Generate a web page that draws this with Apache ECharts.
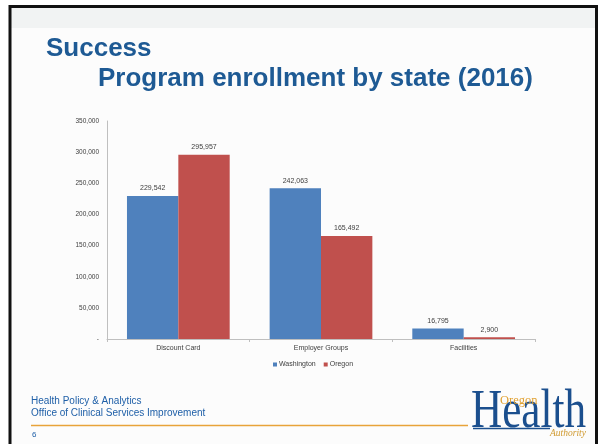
<!DOCTYPE html>
<html><head><meta charset="utf-8">
<script src="https://cdn.jsdelivr.net/npm/echarts@6/dist/echarts.min.js"></script>
<style>html,body{margin:0;padding:0;background:#fff}#c{width:600px;height:444px}</style>
</head><body><div id="c"></div>
<script>
const categories = ["Discount Card", "Employer Groups", "Facilities"];
const seriesNames = ["Washington", "Oregon"];
const washington = [229542, 242063, 16795];
const oregon = [295957, 165492, 2900];
const yTicks = { min: 0, max: 350000, interval: 50000 };

const chart = echarts.init(document.getElementById('c'));
const fmt = v => v === 0 ? '-' : v.toLocaleString('en-US');
const labelStyle = { show: true, position: 'top', fontSize: 7, color: '#404040', fontFamily: 'Liberation Sans', formatter: p => p.value.toLocaleString('en-US'), distance: 4 };

chart.setOption({
  animation: false,
  backgroundColor: '#ffffff',
  grid: { left: 107, right: 65, top: 121, bottom: 105 },
  legend: {
    left: 268, top: 356, itemWidth: 4, itemHeight: 4, itemGap: 8,
    icon: 'rect',
    textStyle: { fontSize: 7, color: '#404040', fontFamily: 'Liberation Sans', padding: [0, 0, 0, -3] },
    data: seriesNames
  },
  xAxis: {
    type: 'category', data: categories,
    axisLine: { lineStyle: { color: '#bfbfbf' } },
    axisTick: { show: true, length: 3, lineStyle: { color: '#bfbfbf' } },
    axisLabel: { fontSize: 7, color: '#404040', fontFamily: 'Liberation Sans', margin: 6 }
  },
  yAxis: {
    type: 'value', min: yTicks.min, max: yTicks.max, interval: yTicks.interval,
    axisLine: { show: true, lineStyle: { color: '#bfbfbf' } },
    axisTick: { show: false },
    splitLine: { show: false },
    axisLabel: { fontSize: 6.5, color: '#404040', fontFamily: 'Liberation Sans', margin: 8, formatter: fmt }
  },
  series: [
    { name: seriesNames[0], type: 'bar', data: washington, barGap: '0%', barCategoryGap: '28%',
      itemStyle: { color: '#4f81bd' }, label: labelStyle },
    { name: seriesNames[1], type: 'bar', data: oregon,
      itemStyle: { color: '#c0504d' }, label: labelStyle }
  ],
  graphic: [
    { type: 'rect', z: -10, shape: { x: 0, y: 0, width: 600, height: 444 }, style: { fill: '#fcfcfc' } },
    { type: 'rect', z: -9, shape: { x: 10, y: 7, width: 586, height: 21 }, style: { fill: '#f1f3f3' } },
    { type: 'rect', z: 100, shape: { x: 0, y: 0, width: 9, height: 444 }, style: { fill: '#ffffff' } },
    { type: 'rect', z: 100, shape: { x: 0, y: 0, width: 600, height: 5 }, style: { fill: '#ffffff' } },
    { type: 'rect', z: 100, shape: { x: 598, y: 0, width: 2, height: 444 }, style: { fill: '#ffffff' } },
    { type: 'polyline', z: 100, shape: { points: [[10, 444], [10, 6.5], [596.5, 6.5], [596.5, 444]] }, style: { stroke: '#111', lineWidth: 3, fill: null } },
    { type: 'text', left: 46, top: 36, style: { text: 'Success', font: 'bold 26px "Liberation Sans"', fill: '#1e5a94' } },
    { type: 'text', left: 98, top: 66, style: { text: 'Program enrollment by state (2016)', font: 'bold 26px "Liberation Sans"', fill: '#1e5a94' } },
    { type: 'text', left: 31, top: 396, style: { text: 'Health Policy & Analytics', font: '10px "Liberation Sans"', fill: '#2060a8' } },
    { type: 'text', left: 31, top: 408, style: { text: 'Office of Clinical Services Improvement', font: '10px "Liberation Sans"', fill: '#2060a8' } },
    { type: 'line', shape: { x1: 31, y1: 425.5, x2: 468, y2: 425.5 }, style: { stroke: '#e8a33a', lineWidth: 1.5 } },
    { type: 'text', left: 32, top: 431, style: { text: '6', font: '8px "Liberation Sans"', fill: '#2060a8' } },
    { type: 'text', x: 471, y: 386, scaleX: 0.8, style: { text: 'Health', font: '54px "Liberation Serif"', fill: '#1b4f8e' } },
    { type: 'text', left: 500, top: 394, style: { text: 'Oregon', font: '12.5px "Liberation Serif"', fill: '#e0a030' } },
    { type: 'line', shape: { x1: 473, y1: 428.5, x2: 550, y2: 428.5 }, style: { stroke: '#1b4f8e', lineWidth: 1.5 } },
    { type: 'text', left: 550, top: 428, style: { text: 'Authority', font: 'italic 9.5px "Liberation Serif"', fill: '#d09a30' } }
  ]
});
</script></body></html>
